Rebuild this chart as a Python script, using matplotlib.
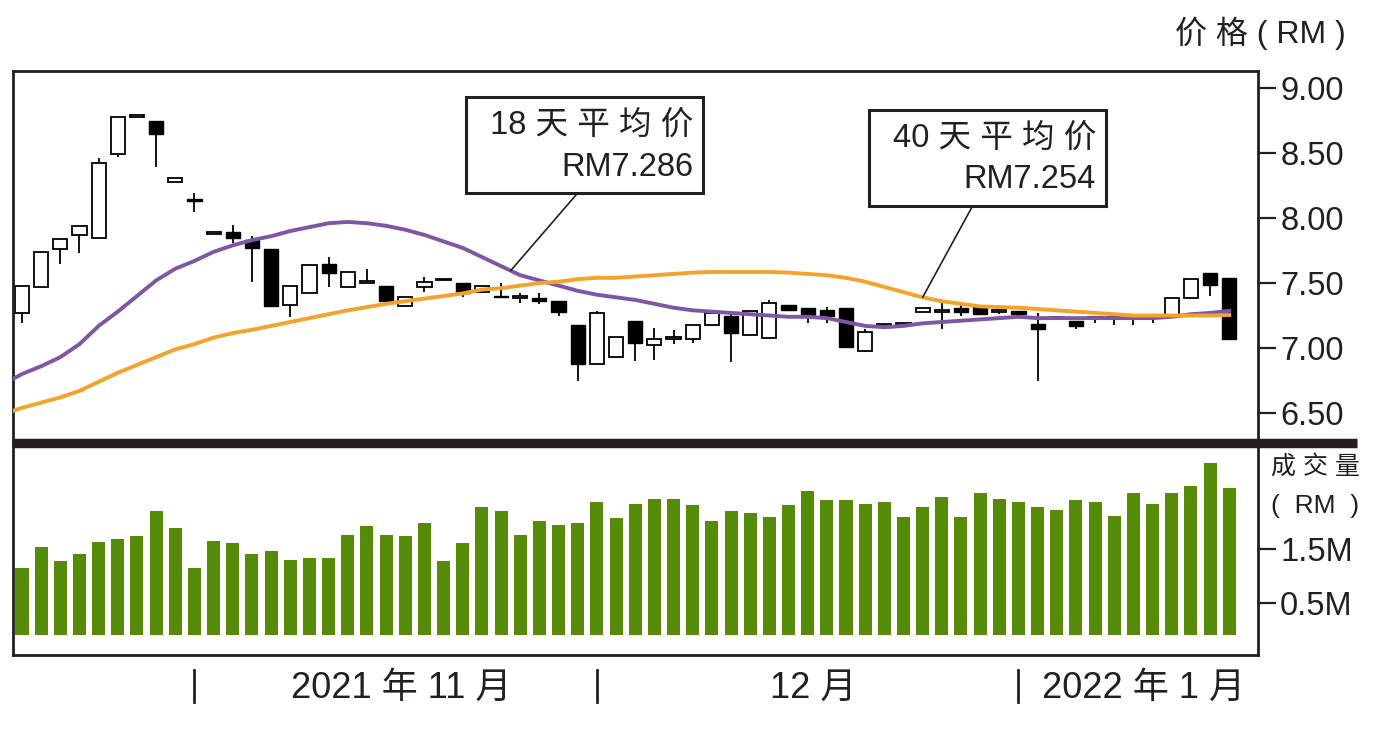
import numpy as np
import matplotlib
matplotlib.use('Agg')
import matplotlib.pyplot as plt
import matplotlib.transforms as mtransforms
from matplotlib.lines import Line2D
from matplotlib.patches import Rectangle

plt.rcParams['font.family'] = ['Liberation Sans', 'Noto Sans CJK SC', 'DejaVu Sans']

# daily candles (RM), Oct 2021 - Jan 2022
opens = np.array([7.27, 7.47, 7.76, 7.87, 7.85, 8.49, 8.78, 8.75, 8.28, 8.15,
                  7.88, 7.89, 7.83, 7.76, 7.33, 7.42, 7.65, 7.47, 7.50, 7.48,
                  7.32, 7.47, 7.52, 7.50, 7.43, 7.40, 7.385, 7.385, 7.36, 7.18,
                  6.88, 6.93, 7.21, 7.02, 7.07, 7.07, 7.18, 7.25, 7.10, 7.08,
                  7.33, 7.31, 7.29, 7.31, 6.98, 7.17, 7.18, 7.28, 7.277, 7.31,
                  7.315, 7.28, 7.285, 7.185, 7.23, 7.21, 7.23, 7.23, 7.23, 7.23,
                  7.25, 7.385, 7.58, 7.54])
highs = np.array([7.48, 7.74, 7.84, 7.94, 8.46, 8.78, 8.79, 8.75, 8.31, 8.19,
                  7.89, 7.95, 7.86, 7.76, 7.48, 7.64, 7.70, 7.585, 7.61, 7.48,
                  7.39, 7.55, 7.53, 7.50, 7.48, 7.50, 7.42, 7.42, 7.36, 7.18,
                  7.285, 7.085, 7.21, 7.155, 7.14, 7.18, 7.27, 7.27, 7.285, 7.37,
                  7.33, 7.31, 7.315, 7.31, 7.15, 7.17, 7.18, 7.31, 7.354, 7.33,
                  7.315, 7.29, 7.285, 7.27, 7.23, 7.21, 7.23, 7.23, 7.23, 7.23,
                  7.385, 7.53, 7.58, 7.54])
lows = np.array([7.19, 7.47, 7.65, 7.73, 7.85, 8.47, 8.78, 8.39, 8.28, 8.05,
                 7.88, 7.81, 7.51, 7.32, 7.24, 7.42, 7.47, 7.47, 7.50, 7.33,
                 7.32, 7.43, 7.52, 7.39, 7.43, 7.39, 7.35, 7.34, 7.25, 6.75,
                 6.88, 6.93, 6.90, 6.91, 7.03, 7.04, 7.18, 6.89, 7.10, 7.08,
                 7.285, 7.19, 7.19, 7.01, 6.97, 7.17, 7.18, 7.28, 7.146, 7.25,
                 7.26, 7.26, 7.26, 6.75, 7.23, 7.15, 7.19, 7.18, 7.18, 7.19,
                 7.25, 7.385, 7.40, 7.07])
closes = np.array([7.48, 7.74, 7.84, 7.94, 8.42, 8.78, 8.79, 8.65, 8.31, 8.13,
                   7.89, 7.85, 7.77, 7.32, 7.48, 7.64, 7.58, 7.585, 7.50, 7.36,
                   7.39, 7.51, 7.53, 7.42, 7.48, 7.39, 7.385, 7.36, 7.28, 6.88,
                   7.27, 7.085, 7.04, 7.07, 7.07, 7.18, 7.27, 7.115, 7.285, 7.35,
                   7.29, 7.25, 7.245, 7.01, 7.12, 7.17, 7.18, 7.31, 7.277, 7.28,
                   7.26, 7.29, 7.26, 7.146, 7.23, 7.17, 7.23, 7.23, 7.23, 7.23,
                   7.385, 7.53, 7.485, 7.07])

# volume (million)
volume = np.array([1.15, 1.54, 1.28, 1.41, 1.63, 1.69, 1.74, 2.20, 1.89, 1.15,
                   1.65, 1.61, 1.41, 1.46, 1.30, 1.33, 1.33, 1.76, 1.93, 1.76,
                   1.74, 1.98, 1.28, 1.61, 2.28, 2.20, 1.76, 2.02, 1.94, 1.98,
                   2.37, 2.07, 2.33, 2.43, 2.43, 2.31, 2.02, 2.20, 2.17, 2.09,
                   2.31, 2.57, 2.41, 2.41, 2.33, 2.37, 2.09, 2.28, 2.46, 2.09,
                   2.54, 2.43, 2.37, 2.28, 2.22, 2.41, 2.37, 2.11, 2.54, 2.33,
                   2.54, 2.67, 3.09, 2.63])

# moving averages, starting one day before the first candle
ma18 = np.array([6.72, 6.80, 6.86, 6.93, 7.03, 7.17, 7.28, 7.40, 7.52, 7.61,
                 7.67, 7.74, 7.79, 7.83, 7.86, 7.90, 7.93, 7.96, 7.97, 7.96,
                 7.94, 7.91, 7.87, 7.82, 7.77, 7.70, 7.63, 7.56, 7.52, 7.48,
                 7.44, 7.41, 7.39, 7.37, 7.34, 7.31, 7.29, 7.28, 7.27, 7.26,
                 7.25, 7.24, 7.24, 7.23, 7.20, 7.17, 7.16, 7.17, 7.19, 7.20,
                 7.21, 7.22, 7.23, 7.24, 7.23, 7.23, 7.23, 7.23, 7.23, 7.23,
                 7.23, 7.24, 7.26, 7.27, 7.286])
ma40 = np.array([6.49, 6.54, 6.58, 6.62, 6.67, 6.74, 6.81, 6.87, 6.93, 6.99,
                 7.03, 7.08, 7.115, 7.14, 7.17, 7.20, 7.23, 7.26, 7.29, 7.315,
                 7.34, 7.36, 7.38, 7.40, 7.42, 7.45, 7.46, 7.48, 7.50, 7.51,
                 7.53, 7.54, 7.54, 7.55, 7.56, 7.57, 7.58, 7.585, 7.585, 7.585,
                 7.585, 7.58, 7.57, 7.56, 7.54, 7.51, 7.47, 7.43, 7.39, 7.36,
                 7.34, 7.32, 7.315, 7.31, 7.30, 7.29, 7.28, 7.27, 7.26, 7.25,
                 7.25, 7.25, 7.25, 7.25, 7.254])

month_starts = [9, 30, 52]
month_labels = ['2021 年 11 月', '12 月', '2022 年 1 月']
price_ticks = [6.5, 7.0, 7.5, 8.0, 8.5, 9.0]
vol_ticks = [0.5, 1.5]
ink = '#231f20'

W, H = 1385, 741
fig = plt.figure(figsize=(W / 100, H / 100), dpi=100)


def fx(px):
    return px / W


def fy(py):
    return 1 - py / H


ax = fig.add_axes([fx(13), fy(442), fx(1258) - fx(13), fy(71) - fy(442)])
axv = fig.add_axes([fx(13), fy(655), fx(1258) - fx(13), fy(442) - fy(655)], sharex=ax)

# candles
x = np.arange(len(opens))
up = closes >= opens
body_bot = np.minimum(opens, closes)
body_h = np.maximum(np.abs(closes - opens), 0.012)
ax.vlines(x, lows, highs, color='black', lw=1.3, zorder=2)
ax.bar(x[up], body_h[up], bottom=body_bot[up], width=0.74,
       facecolor='white', edgecolor='black', lw=1.3, zorder=2.5)
ax.bar(x[~up], body_h[~up], bottom=body_bot[~up], width=0.74,
       facecolor='black', edgecolor='black', lw=1.0, zorder=2.5)

ma_x = np.arange(-1, len(opens))
ax.plot(ma_x, ma18, color='#7E56A4', lw=2.8, zorder=3)
ax.plot(ma_x, ma40, color='#F5A22A', lw=2.8, zorder=4)

ax.set_xlim(-0.47, 64.5)
ax.set_ylim(6.277, 9.131)
ax.yaxis.tick_right()
ax.set_yticks(price_ticks)
ax.set_yticklabels(['%.2f' % p for p in price_ticks])
ax.tick_params(axis='y', direction='out', length=13, width=1.6, pad=3,
               labelsize=23.5, colors=ink)
ax.tick_params(axis='x', bottom=False, labelbottom=False)
for s in ax.spines.values():
    s.set_linewidth(2)
    s.set_color(ink)

# volume
vol_base = -0.093
axv.bar(x, volume - vol_base, bottom=vol_base, width=0.68, color='#558B06', zorder=2)
axv.set_ylim(-0.463, 3.48)
axv.yaxis.tick_right()
axv.set_yticks(vol_ticks)
axv.set_yticklabels(['%.1fM' % v for v in vol_ticks])
axv.tick_params(axis='y', direction='out', length=13, width=1.6, pad=3,
                labelsize=23.5, colors=ink)
axv.tick_params(axis='x', bottom=False, labelbottom=False)
for s in axv.spines.values():
    s.set_linewidth(2)
    s.set_color(ink)

# thick separator between panels
fig.add_artist(Line2D([fx(13), fx(1357)], [fy(442.5), fy(442.5)], lw=6.8,
                      color=ink, solid_capstyle='butt'))

# month ticks and labels below the volume panel
trans = mtransforms.blended_transform_factory(axv.transData, axv.transAxes)
for m in month_starts:
    axv.plot([m, m], [-0.07, -0.22], transform=trans, color=ink, lw=2,
             clip_on=False)
bounds = month_starts + [64.5]
for i, lab in enumerate(month_labels):
    axv.text((bounds[i] + bounds[i + 1]) / 2 + 0.3, -0.155, lab, transform=trans,
             ha='center', va='center', fontsize=26, color=ink)

# axis titles
fig.text(fx(1346), fy(33), '价 格 ( RM )', ha='right', va='center', fontsize=23, color=ink)
fig.text(fx(1271), fy(467), '成 交 量', ha='left', va='center', fontsize=18, color=ink)
fig.text(fx(1271), fy(506), '(  RM  )', ha='left', va='center', fontsize=19, color=ink)

# moving average call-outs
boxes = [((466, 97, 703, 193), '18 天 平 均 价', 'RM%.3f' % ma18[-1], 25.5, ma18, (576, 195)),
         ((869, 110, 1106, 206), '40 天 平 均 价', 'RM%.3f' % ma40[-1], 47.0, ma40, (972, 207))]
for (x0, y0, x1, y1), l1, l2, at, ma, (lx, ly) in boxes:
    fig.add_artist(Rectangle((fx(x0), fy(y1)), fx(x1) - fx(x0), fy(y0) - fy(y1),
                             transform=fig.transFigure, facecolor='white',
                             edgecolor=ink, lw=2.2, zorder=5))
    fig.text(fx(x1 - 10), fy(y0 + 28), l1, ha='right', va='center', fontsize=23.5,
             color=ink, zorder=6)
    fig.text(fx(x1 - 10), fy(y0 + 70), l2, ha='right', va='center', fontsize=23.5,
             color=ink, zorder=6)
    ax.annotate('', xy=(at, np.interp(at, ma_x, ma)), xycoords='data',
                xytext=(fx(lx), fy(ly)), textcoords='figure fraction',
                arrowprops=dict(arrowstyle='-', color=ink, lw=1.2,
                                shrinkA=0, shrinkB=0), zorder=5)

fig.savefig('out.png', dpi=100, facecolor='white')
